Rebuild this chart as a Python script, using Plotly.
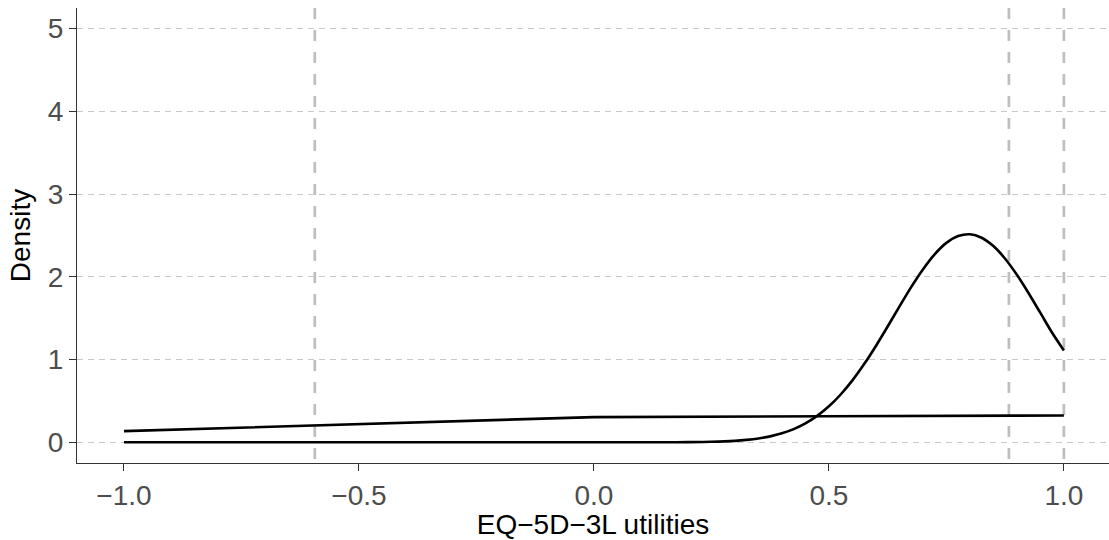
import plotly.graph_objects as go

# ---- data ----
x_title = "EQ\u22125D\u22123L utilities"
y_title = "Density"

# peaked density curve
curve_x = [-1.0, -0.5, 0.0, 0.1, 0.15, 0.2, 0.25, 0.3, 0.325, 0.35, 0.375, 0.4, 0.425,
           0.45, 0.475, 0.5, 0.525, 0.55, 0.575, 0.6, 0.625, 0.65, 0.675, 0.7,
           0.725, 0.75, 0.775, 0.8, 0.825, 0.85, 0.875, 0.9, 0.925, 0.95, 0.975, 1.0]
curve_y = [0.0, 0.0, 0.0, 0.0, 0.0005, 0.002, 0.006, 0.018, 0.030, 0.047, 0.072, 0.109, 0.160,
           0.229, 0.319, 0.435, 0.578, 0.749, 0.946, 1.165, 1.400, 1.641, 1.876, 2.090,
           2.273, 2.411, 2.493, 2.515, 2.473, 2.372, 2.219, 2.025, 1.802, 1.564, 1.324, 1.11]

# nearly flat curve
flat_x = [-1.0, -0.5, 0.0, 0.5, 1.0]
flat_y = [0.135, 0.22, 0.305, 0.315, 0.325]

# vertical reference lines
vline_x = [-0.594, 0.883, 1.0]

x_ticks = [-1.0, -0.5, 0.0, 0.5, 1.0]
x_ticklabels = ["\u22121.0", "\u22120.5", "0.0", "0.5", "1.0"]
y_ticks = [0, 1, 2, 3, 4, 5]
y_ticklabels = ["0", "1", "2", "3", "4", "5"]

FONT = "Liberation Sans, Arial, Helvetica, sans-serif"

fig = go.Figure()
fig.add_trace(go.Scatter(x=flat_x, y=flat_y, mode="lines",
                         line=dict(color="black", width=2.6),
                         showlegend=False, hoverinfo="skip"))
fig.add_trace(go.Scatter(x=curve_x, y=curve_y, mode="lines",
                         line=dict(color="black", width=2.6, shape="spline", smoothing=0.8),
                         showlegend=False, hoverinfo="skip"))

for xv in vline_x:
    fig.add_shape(type="line", xref="x", yref="paper", x0=xv, x1=xv, y0=1, y1=0,
                  line=dict(color="#BEBEBE", width=2.7, dash="11px,11px"),
                  layer="below")

fig.update_layout(
    width=1109, height=540,
    margin=dict(l=77, r=0, t=8, b=77, pad=0),
    paper_bgcolor="white", plot_bgcolor="white",
    font=dict(family=FONT, color="black"),
    showlegend=False,
)
fig.update_xaxes(
    range=[-1.1, 1.096], tickvals=x_ticks, ticktext=x_ticklabels,
    showgrid=False, zeroline=False,
    showline=True, linecolor="#333333", linewidth=1.3,
    ticks="outside", ticklen=7, tickwidth=1.3, tickcolor="#333333",
    tickfont=dict(size=28, color="#4D4D4D", family=FONT),
    title=dict(text=x_title, font=dict(size=28, color="black", family=FONT), standoff=6),
)
fig.update_yaxes(
    range=[-0.25, 5.25], tickvals=y_ticks, ticktext=y_ticklabels,
    showgrid=True, gridcolor="#C8C8C8", gridwidth=1.2, griddash="6px,5px",
    zeroline=False,
    showline=True, linecolor="#333333", linewidth=1.3,
    ticks="outside", ticklen=7, tickwidth=1.3, tickcolor="#333333",
    tickfont=dict(size=28, color="#4D4D4D", family=FONT),
    title=dict(text=y_title, font=dict(size=28, color="black", family=FONT), standoff=8),
)

fig.write_html("out.html", config={"displayModeBar": False},
               post_script="document.body.style.margin='0';document.body.style.overflow='hidden';")
